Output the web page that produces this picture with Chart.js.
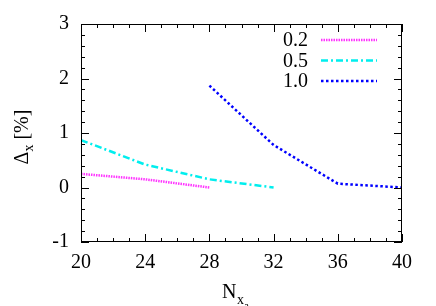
<!DOCTYPE html>
<html>
<head>
<meta charset="utf-8">
<script src="https://cdn.jsdelivr.net/npm/chart.js@4"></script>
<style>
  html, body { margin: 0; padding: 0; background: #fff; }
  #wrap { width: 436px; height: 306px; }
</style>
</head>
<body>
<div id="wrap"><canvas id="c"></canvas></div>
<script>
// data
var seriesLabels = ['0.2', '0.5', '1.0'];
var x02 = [20, 24, 28];
var d02 = [0.25, 0.15, 0.0];
var x05 = [20, 24, 28, 32];
var d05 = [0.87, 0.42, 0.15, 0.0];
var x10 = [28, 32, 36, 40];
var d10 = [1.87, 0.78, 0.07, 0.0];
var xTicks = [20, 24, 28, 32, 36, 40];
var yTicks = [-1, 0, 1, 2, 3];

var serif = "'Liberation Serif', 'DejaVu Serif', serif";

function pts(xs, ys) {
  return xs.map(function(x, i) { return { x: x, y: ys[i] }; });
}

// box, inward ticks, legend and axis titles (gnuplot look)
var framePlugin = {
  id: 'frame',
  afterDraw: function(chart) {
    var c = chart.ctx, a = chart.chartArea;
    var xs = chart.scales.x, ys = chart.scales.y;
    c.save();
    c.strokeStyle = '#000';
    c.lineWidth = 1;
    c.setLineDash([]);
    c.strokeRect(a.left + 0.5, a.top + 0.5, a.right - a.left - 1, a.bottom - a.top - 1);
    c.beginPath();
    var v, p, len;
    for (v = 20; v <= 40; v += 1) {
      p = Math.round(xs.getPixelForValue(v)) + 0.5;
      len = (v % 4 === 0) ? 8 : 4;
      c.moveTo(p, a.bottom); c.lineTo(p, a.bottom - len);
      c.moveTo(p, a.top); c.lineTo(p, a.top + len);
    }
    for (var k = -5; k <= 15; k++) {
      v = k / 5;
      p = Math.round(ys.getPixelForValue(v)) + 0.5;
      len = (k % 5 === 0) ? 8 : 4;
      c.moveTo(a.left, p); c.lineTo(a.left + len, p);
      c.moveTo(a.right, p); c.lineTo(a.right - len, p);
    }
    c.stroke();

    // legend
    c.font = '20px ' + serif;
    c.fillStyle = '#000';
    c.textAlign = 'right';
    c.textBaseline = 'middle';
    chart.data.datasets.forEach(function(ds, i) {
      var y = 40 + i * 20.5;
      c.fillText(ds.label, 308, y + 1);
      c.beginPath();
      c.strokeStyle = ds.borderColor;
      c.lineWidth = ds.borderWidth;
      c.setLineDash(ds.borderDash);
      c.moveTo(321, y); c.lineTo(377, y);
      c.stroke();
    });
    c.setLineDash([]);

    // y title: Δx [%]
    c.save();
    c.translate(28, 137);
    c.rotate(-Math.PI / 2);
    c.textAlign = 'left';
    c.textBaseline = 'alphabetic';
    c.fillStyle = '#000';
    c.font = '20px ' + serif;
    var t1 = '\u0394';
    var w1 = c.measureText(t1).width;
    c.font = '14px ' + serif;
    var t2 = 'x';
    var w2 = c.measureText(t2).width;
    c.font = '20px ' + serif;
    var t3 = ' [%]';
    var w3 = c.measureText(t3).width;
    var sx = -(w1 + w2 + w3) / 2;
    c.fillText(t1, sx, 0);
    c.font = '14px ' + serif;
    c.fillText(t2, sx + w1, 5);
    c.font = '20px ' + serif;
    c.fillText(t3, sx + w1 + w2, 0);
    c.restore();

    // x title: N_{x_a}
    c.textAlign = 'left';
    c.textBaseline = 'alphabetic';
    c.font = '20px ' + serif;
    c.fillText('N', 222, 298);
    c.font = '14px ' + serif;
    c.fillText('x', 237, 304);
    c.font = '11px ' + serif;
    c.fillText('a', 244, 309);
    c.restore();
  }
};

new Chart(document.getElementById('c'), {
  type: 'line',
  data: {
    datasets: [
      { label: seriesLabels[0], data: pts(x02, d02), borderColor: '#ff33ff', borderWidth: 2.5, borderDash: [1.5, 1], pointRadius: 0, tension: 0, fill: false },
      { label: seriesLabels[1], data: pts(x05, d05), borderColor: '#00eeee', borderWidth: 2.5, borderDash: [7, 3, 2, 3], pointRadius: 0, tension: 0, fill: false },
      { label: seriesLabels[2], data: pts(x10, d10), borderColor: '#0000ff', borderWidth: 2.5, borderDash: [2.5, 2.5], pointRadius: 0, tension: 0, fill: false }
    ]
  },
  options: {
    responsive: true, maintainAspectRatio: false, animation: false,
    layout: { padding: { left: 0, top: 23, right: 34, bottom: 0 } },
    plugins: { legend: { display: false }, tooltip: { enabled: false } },
    scales: {
      x: {
        type: 'linear', min: 20, max: 40,
        grid: { display: false, drawTicks: false },
        border: { display: false },
        afterFit: function(s) { s.height = 64; },
        afterBuildTicks: function(s) { s.ticks = xTicks.map(function(v) { return { value: v }; }); },
        ticks: { color: '#000', padding: 9, maxRotation: 0, font: { family: serif, size: 20 } }
      },
      y: {
        min: -1, max: 3,
        grid: { display: false, drawTicks: false },
        border: { display: false },
        afterFit: function(s) { s.width = 81; },
        afterBuildTicks: function(s) { s.ticks = yTicks.map(function(v) { return { value: v }; }); },
        ticks: { color: '#000', padding: 12, font: { family: serif, size: 20 } }
      }
    }
  },
  plugins: [framePlugin]
});
</script>
</body>
</html>
